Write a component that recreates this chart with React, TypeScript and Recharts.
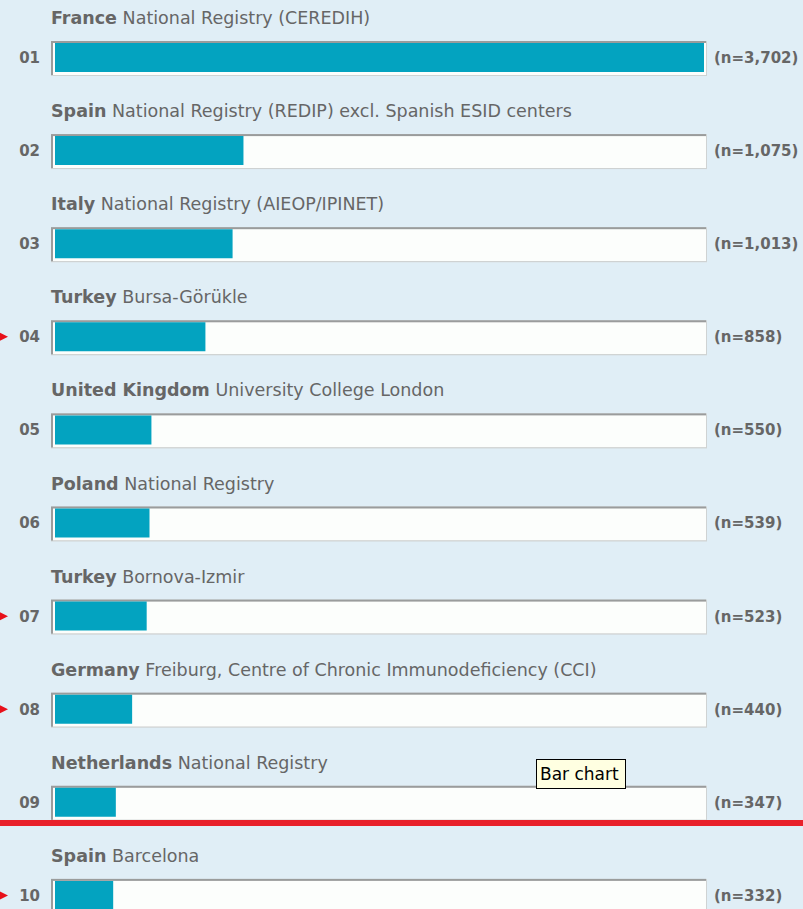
import React from 'react';
import { BarChart, Bar, XAxis, YAxis, LabelList } from 'recharts';

const ranks = ['01', '02', '03', '04', '05', '06', '07', '08', '09', '10'];
const countries = ['France', 'Spain', 'Italy', 'Turkey', 'United Kingdom', 'Poland', 'Turkey', 'Germany', 'Netherlands', 'Spain'];
const centres = [
  'National Registry (CEREDIH)',
  'National Registry (REDIP) excl. Spanish ESID centers',
  'National Registry (AIEOP/IPINET)',
  'Bursa-Görükle',
  'University College London',
  'National Registry',
  'Bornova-Izmir',
  'Freiburg, Centre of Chronic Immunodeficiency (CCI)',
  'National Registry',
  'Barcelona',
];
const patients = [3702, 1075, 1013, 858, 550, 539, 523, 440, 347, 332];
const flagged = ['04', '07', '08', '10'];

const rows = ranks.map((id, i) => ({ id, country: countries[i], centre: centres[i], n: patients[i] }));

const FONT = '"DejaVu Sans", Verdana, sans-serif';
const GREY = '#666';

function RankTick(props: any) {
  const { x, y, payload } = props;
  return (
    <g>
      {flagged.includes(payload.value) && (
        <polygon points={`0,${y - 4} 8,${y} 0,${y + 4}`} fill="#e8101a" />
      )}
      <text x={x} y={y} dy="0.36em" textAnchor="end" fontFamily={FONT} fontSize={15} fontWeight="bold" fill={GREY}>
        {payload.value}
      </text>
    </g>
  );
}

function CountTick(props: any) {
  const { x, y, payload } = props;
  const row = rows.find((r) => r.id === payload.value);
  return (
    <text x={x} y={y} dy="0.36em" textAnchor="start" fontFamily={FONT} fontSize={15} fontWeight="bold" fill={GREY}>
      {`(n=${row ? row.n.toLocaleString('en-US') : ''})`}
    </text>
  );
}

function Track(props: any) {
  const { x, y, width, height } = props;
  const left = x - 4;
  const top = y - 2;
  const w = width + 7;
  const h = height + 6;
  return (
    <g>
      <rect x={left} y={top} width={w} height={h} fill="#cfd3d3" />
      <rect x={left} y={top} width={w - 1} height={h - 1} fill="#9a9c9c" />
      <rect x={left + 2} y={top + 2} width={w - 3} height={h - 3} fill="#fcfefc" />
    </g>
  );
}

function TitleLabel(props: any) {
  const { y, value } = props;
  const row = rows.find((r) => r.id === value);
  if (!row) return null;
  return (
    <text x={51} y={y - 19} fontFamily={FONT} fontSize={17.5} fill={GREY}>
      <tspan fontWeight="bold">{row.country}</tspan>
      <tspan> {row.centre}</tspan>
    </text>
  );
}

export default function App() {
  return (
    <div
      style={{
        position: 'absolute',
        left: 0,
        top: 0,
        width: 803,
        height: 909,
        overflow: 'hidden',
        background: '#e0eef6',
      }}
    >
      <BarChart
        layout="vertical"
        width={803}
        height={943}
        data={rows}
        margin={{ top: 11, right: 0, bottom: 1, left: 0 }}
      >
        <XAxis type="number" domain={[0, Math.max(...patients)]} hide />
        <YAxis
          yAxisId="left"
          type="category"
          dataKey="id"
          width={55}
          axisLine={false}
          tickLine={false}
          tickSize={0}
          tickMargin={15}
          interval={0}
          tick={(p: any) => <RankTick {...p} />}
        />
        <YAxis
          yAxisId="right"
          orientation="right"
          type="category"
          dataKey="id"
          width={99}
          axisLine={false}
          tickLine={false}
          tickSize={0}
          tickMargin={10}
          interval={0}
          tick={(p: any) => <CountTick {...p} />}
        />
        <Bar
          yAxisId="left"
          dataKey="n"
          barSize={29}
          fill="#03a3c0"
          background={(p: any) => <Track {...p} />}
          isAnimationActive={false}
        >
          <LabelList dataKey="id" content={(p: any) => <TitleLabel {...p} />} />
        </Bar>
      </BarChart>

      {/* cut-off line below row 09 */}
      <div style={{ position: 'absolute', left: 0, top: 820, width: 803, height: 6, background: '#e8202a' }} />

      {/* hover tooltip captured in the screenshot */}
      <div
        style={{
          position: 'absolute',
          left: 536,
          top: 759,
          width: 90,
          height: 30,
          boxSizing: 'border-box',
          border: '1px solid #000',
          background: '#ffffe1',
          fontFamily: FONT,
          fontSize: 17,
          lineHeight: '28px',
          paddingLeft: 3,
          color: '#000',
        }}
      >
        Bar chart
      </div>
    </div>
  );
}
